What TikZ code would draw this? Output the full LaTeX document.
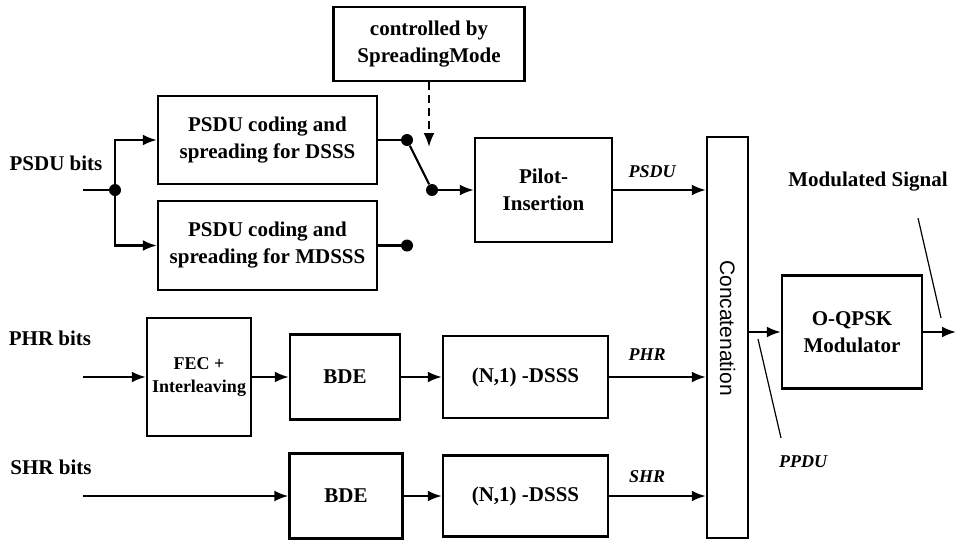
\documentclass[tikz,border=0pt]{standalone}
\usepackage{fontspec}
\setmainfont{Liberation Serif}
\setsansfont{Liberation Sans}
\usetikzlibrary{arrows.meta}

\begin{document}
\begin{tikzpicture}[x=0.5pt,y=-0.5pt,
    blk/.style={draw, line width=1.2pt, inner sep=1pt, align=center,
                font=\fontsize{10.5}{13.5}\selectfont\bfseries},
    lab/.style={font=\fontsize{10.5}{13}\selectfont\bfseries},
    sig/.style={font=\fontsize{9}{11}\selectfont\bfseries\itshape},
    wire/.style={line width=1.1pt},
    flow/.style={line width=1.1pt, -{Latex[length=7pt,width=5.5pt]}},
    leader/.style={line width=0.6pt},
    dotc/.style={circle, fill, inner sep=0pt, minimum size=6pt}]

  \useasboundingbox (0,0) rectangle (956,541);

  % -- blocks --
  \node[blk, minimum width=95.5pt, minimum height=37pt] (ctrl) at (429,44)
       {controlled by\\SpreadingMode};
  \node[blk, minimum width=109.5pt, minimum height=44pt] (dsss) at (267.5,140)
       {PSDU coding and\\spreading for DSSS};
  \node[blk, minimum width=109.5pt, minimum height=44.5pt] (mdsss) at (267.5,245.5)
       {PSDU coding and\\spreading for MDSSS};
  \node[blk, minimum width=68.5pt, minimum height=52pt] (pilot) at (543.5,190)
       {Pilot-\\Insertion};
  \node[blk, minimum width=52pt, minimum height=59pt,
        font=\fontsize{9}{11.5}\selectfont\bfseries] (fec) at (199,377)
       {FEC +\\Interleaving};
  \node[blk, minimum width=55pt, minimum height=42.5pt] (bdea) at (345,377) {BDE};
  \node[blk, minimum width=82.5pt, minimum height=41pt] (spra) at (525.5,377) {(N,1) -DSSS};
  \node[blk, minimum width=56.5pt, minimum height=42.5pt] (bdeb) at (346,496) {BDE};
  \node[blk, minimum width=82.5pt, minimum height=40.5pt] (sprb) at (525.5,496) {(N,1) -DSSS};
  \node[blk, minimum width=20.5pt, minimum height=200.5pt] (concat) at (727.5,337.5) {};
  \node[rotate=-90, font=\fontsize{10.5}{12}\sffamily] (concattxt) at (727.5,328)
       {Concatenation};
  \node[blk, minimum width=70pt, minimum height=56.5pt] (oqpsk) at (852,332)
       {O-QPSK\\Modulator};

  % -- input labels --
  \node[lab] (psdubits) at (56,163) {PSDU bits};
  \node[lab] (phrbits) at (50,338) {PHR bits};
  \node[lab] (shrbits) at (51,467) {SHR bits};

  % -- PSDU branch and mode switch --
  \coordinate (psduin) at (83,190);
  \node[dotc] (split) at (115,190) {};
  \draw[wire] (psduin) -- (split);
  \draw[flow] (split) |- (dsss.west);
  \draw[flow] (split) |- (mdsss.west);

  \node[dotc] (swa) at (407,140) {};
  \node[dotc] (swb) at (407,245.5) {};
  \node[dotc] (swc) at (432,190) {};
  \draw[wire] (dsss.east) -- (swa);
  \draw[wire] (mdsss.east) -- (swb);
  \draw[wire] (swa) -- (swc);
  \draw[flow] (swc) -- (pilot.west);

  \coordinate (ctrltip) at (429,147);
  \draw[flow, dash pattern=on 4pt off 2.5pt] (ctrl.south) -- (ctrltip);

  % -- header rows --
  \coordinate (phrin) at (83,377);
  \coordinate (shrin) at (83,496);
  \draw[flow] (phrin) -- (fec.west);
  \draw[flow] (fec) -- (bdea);
  \draw[flow] (bdea) -- (spra);
  \draw[flow] (shrin) -- (bdeb.west);
  \draw[flow] (bdeb) -- (sprb);

  % -- into the concatenation --
  \foreach \src in {pilot, spra, sprb}
    \draw[flow] (\src.east) -- (\src.east -| concat.west);
  \node[sig] (psdulab) at (652,172) {PSDU};
  \node[sig] (phrlab) at (647,355) {PHR};
  \node[sig] (shrlab) at (647,477) {SHR};

  % -- modulator and output --
  \draw[flow] (concat.east |- oqpsk.west) -- (oqpsk.west);
  \coordinate (modout) at (956,332);
  \draw[flow] (oqpsk.east) -- (modout);

  \node[lab] (modlab) at (868,182) {Modulated Signal};
  \coordinate (msa) at (918,218);
  \coordinate (msb) at (941,318);
  \draw[leader] (msa) -- (msb);

  \node[sig] (ppdulab) at (803,462) {PPDU};
  \coordinate (ppa) at (758,339);
  \coordinate (ppb) at (781,438);
  \draw[leader] (ppa) -- (ppb);
\end{tikzpicture}
\end{document}
